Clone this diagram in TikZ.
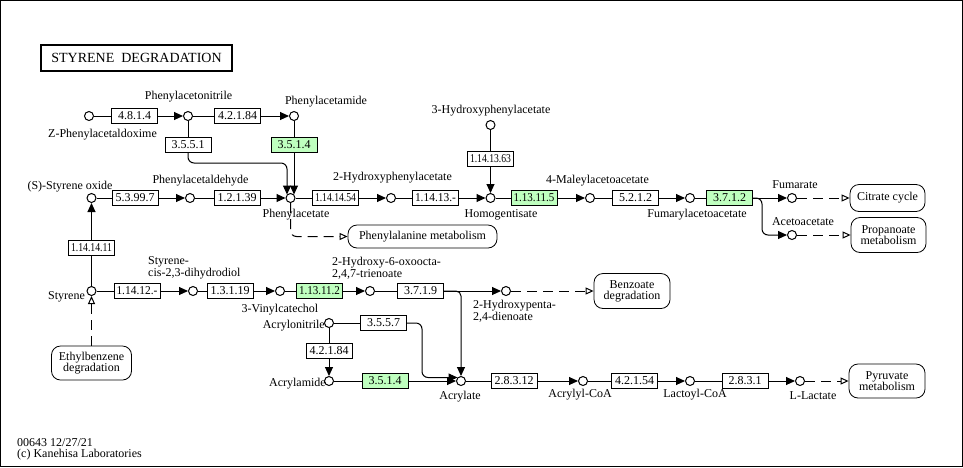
\documentclass[tikz,border=0pt]{standalone}
\usepackage{graphicx}
\usepackage{fontspec}
\setmainfont{Liberation Serif}
\usetikzlibrary{arrows.meta,backgrounds}
\definecolor{keggreen}{RGB}{191,255,191}
\newcommand{\fitec}[1]{\setbox0=\hbox{#1}\ifdim\wd0>41pt\resizebox{41pt}{\height}{#1}\else\box0\fi}
\begin{document}
\begin{tikzpicture}[x=1pt,y=-1pt,font=\fontsize{12}{12}\selectfont,
  cpd/.style={circle,draw,fill=white,minimum size=9,inner sep=0,line width=1},
  ec/.style={draw,fill=white,minimum width=46,minimum height=15,inner sep=0,line width=0.8},
  ecg/.style={ec,fill=keggreen},
  lbl/.style={inner sep=0},
  lbltwo/.style={inner sep=0,align=left,font=\fontsize{12}{10}\selectfont},
  mapbox/.style={draw,rounded corners=9,fill=white,align=center,inner sep=0,line width=0.8,font=\fontsize{12}{11}\selectfont},
  rx/.style={line width=1,-{Triangle[length=9pt,width=8pt]}},
  ln/.style={line width=1},
  rel/.style={line width=1,dash pattern=on 10pt off 6pt,-{Triangle[open,length=8pt,width=7pt]}}]
\useasboundingbox (0,0) rectangle (963,467);
\draw[line width=1.2] (0.75,0.75) rectangle (962.25,466.25);
% title
\node[draw,line width=2,minimum width=191,minimum height=26,inner sep=0,font=\fontsize{14}{14}\selectfont] (title) at (136.5,58) {STYRENE\ \ DEGRADATION};
% compounds
\node[cpd] (zpa) at (89,116) {};
\node[cpd] (pan) at (188,116) {};
\node[cpd] (pam) at (294,116) {};
\node[cpd] (so) at (91.5,198) {};
\node[cpd] (pald) at (190,198) {};
\node[cpd] (pac) at (290.5,198) {};
\node[cpd] (hpa2) at (391,198) {};
\node[cpd] (hpa3) at (490.5,125) {};
\node[cpd] (hgn) at (490.5,198) {};
\node[cpd] (mla) at (590,198) {};
\node[cpd] (fla) at (690,198) {};
\node[cpd] (fum) at (792,198) {};
\node[cpd] (aca) at (792,235) {};
\node[cpd] (sty) at (91.5,291) {};
\node[cpd] (sdd) at (193,291) {};
\node[cpd] (vc) at (280,291) {};
\node[cpd] (hoo) at (370,291) {};
\node[cpd] (hpd) at (506,291) {};
\node[cpd] (acn) at (329,323) {};
\node[cpd] (acm) at (329,381) {};
\node[cpd] (acr) at (461,381) {};
\node[cpd] (acoa) at (583,381) {};
\node[cpd] (lcoa) at (690,381) {};
\node[cpd] (lac) at (800,381) {};
% compound labels
\node[lbl] (lzpa) at (102.5,135) {Z-Phenylacetaldoxime};
\node[lbl] (lpan) at (188.5,97) {Phenylacetonitrile};
\node[lbl] (lpam) at (326,102) {Phenylacetamide};
\node[lbl] (lso) at (70,186.5) {(S)-Styrene oxide};
\node[lbl] (lpald) at (200.5,181) {Phenylacetaldehyde};
\node[lbl] (lpac) at (296,215) {Phenylacetate};
\node[lbl] (lhpa2) at (392.5,178) {2-Hydroxyphenylacetate};
\node[lbl] (lhpa3) at (491,111) {3-Hydroxyphenylacetate};
\node[lbl] (lhgn) at (501,215) {Homogentisate};
\node[lbl] (lmla) at (597.5,181) {4-Maleylacetoacetate};
\node[lbl] (lfla) at (697,215) {Fumarylacetoacetate};
\node[lbl] (lfum) at (795,185) {Fumarate};
\node[lbl] (laca) at (803,222) {Acetoacetate};
\node[lbl] (lsty) at (66.5,297) {Styrene};
\node[lbltwo,anchor=west] (lsdd) at (148,268) {Styrene-\\cis-2,3-dihydrodiol};
\node[lbl] (lvc) at (280,310) {3-Vinylcatechol};
\node[lbltwo,anchor=west] (lhoo) at (332,268) {2-Hydroxy-6-oxoocta-\\2,4,7-trienoate};
\node[lbltwo,anchor=west] (lhpd) at (473,311) {2-Hydroxypenta-\\2,4-dienoate};
\node[lbl,anchor=east] (lacn) at (325,326) {Acrylonitrile};
\node[lbl,anchor=east] (lacm) at (326,384) {Acrylamide};
\node[lbl] (lacr) at (460,397) {Acrylate};
\node[lbl] (lacoa) at (580,395) {Acrylyl-CoA};
\node[lbl] (llcoa) at (695,395) {Lactoyl-CoA};
\node[lbl] (llac) at (813,396) {L-Lactate};
% enzymes
\node[ec] (b4814) at (134.5,116) {\fitec{4.8.1.4}};
\node[ec] (b42184a) at (237.5,116) {\fitec{4.2.1.84}};
\node[ec] (b3551) at (188,144.5) {\fitec{3.5.5.1}};
\node[ecg] (b3514a) at (294,144.5) {\fitec{3.5.1.4}};
\node[ec] (b1141411) at (91.5,248) {\fitec{1.14.14.11}};
\node[ec] (b53997) at (135,198) {\fitec{5.3.99.7}};
\node[ec] (b12139) at (237,198) {\fitec{1.2.1.39}};
\node[ec] (b1141454) at (335.5,198) {\fitec{1.14.14.54}};
\node[ec] (b11413) at (435.5,198) {\fitec{1.14.13.-}};
\node[ec] (b1141363) at (490.5,159) {\fitec{1.14.13.63}};
\node[ecg] (b113115) at (534,198) {\fitec{1.13.11.5}};
\node[ec] (b5212) at (635.5,198) {\fitec{5.2.1.2}};
\node[ecg] (b3712) at (729.5,198) {\fitec{3.7.1.2}};
\node[ec] (b11412) at (137,291) {\fitec{1.14.12.-}};
\node[ec] (b13119) at (230,291) {\fitec{1.3.1.19}};
\node[ecg] (b113112) at (319.5,291) {\fitec{1.13.11.2}};
\node[ec] (b3719) at (420.5,291) {\fitec{3.7.1.9}};
\node[ec] (b3557) at (383.5,323) {\fitec{3.5.5.7}};
\node[ec] (b42184b) at (329,351) {\fitec{4.2.1.84}};
\node[ecg] (b3514b) at (385,381) {\fitec{3.5.1.4}};
\node[ec] (b28312) at (514,381) {\fitec{2.8.3.12}};
\node[ec] (b42154) at (634.5,381) {\fitec{4.2.1.54}};
\node[ec] (b2831) at (745,381) {\fitec{2.8.3.1}};
% maps
\node[mapbox,minimum width=149,minimum height=23] (phe) at (422.5,236.5) {Phenylalanine metabolism};
\node[mapbox,minimum width=75,minimum height=27] (cit) at (887.5,198) {Citrate cycle};
\node[mapbox,minimum width=75,minimum height=35] (pro) at (888.5,235) {Propanoate\\metabolism};
\node[mapbox,minimum width=76,minimum height=35] (ben) at (632,291) {Benzoate\\degradation};
\node[mapbox,minimum width=80,minimum height=34] (eth) at (91.5,363) {Ethylbenzene\\degradation};
\node[mapbox,minimum width=76,minimum height=34] (pyr) at (887,381) {Pyruvate\\metabolism};
% footer
\node[lbl,anchor=west] (ft1) at (17,443) {00643 12/27/21};
\node[lbl,anchor=west] (ft2) at (17,455) {(c) Kanehisa Laboratories};
% helper coordinates
\coordinate (pacinA) at (287,194.5);
\coordinate (pacinB) at (294,194.5);
\coordinate (c3551a) at (188,163);
\coordinate (c3551b) at (287,163);
\coordinate (c3712) at (762,198);
\coordinate (c3719) at (461,291);
\coordinate (c3557a) at (422,323);
\coordinate (c3557b) at (422,377.5);
\coordinate (acrinA) at (457.5,377.5);
\begin{pgfonlayer}{background}
\draw[rx] (zpa) -- (pan);
\draw[rx] (pan) -- (pam);
\draw[ln] (pan) -- (b3551);
\draw[rx,rounded corners=6] (b3551.south) -- (c3551a) -- (c3551b) -- (pacinA);
\draw[rx] (pam) -- (pacinB);
\draw[rx] (sty) -- (so);
\draw[rx] (so) -- (pald);
\draw[rx] (pald) -- (pac);
\draw[rx] (pac) -- (hpa2);
\draw[rx] (hpa2) -- (hgn);
\draw[rx] (hpa3) -- (hgn);
\draw[rx] (hgn) -- (mla);
\draw[rx] (mla) -- (fla);
\draw[rx] (fla) -- (fum);
\draw[rx,rounded corners=6] (b3712.east) -- (c3712) |- (aca);
\draw[rx] (sty) -- (sdd);
\draw[rx] (sdd) -- (vc);
\draw[rx] (vc) -- (hoo);
\draw[rx] (hoo) -- (hpd);
\draw[rx,rounded corners=5] (b3719.east) -- (c3719) -- (acr);
\draw[ln] (acn) -- (b3557.west);
\draw[rx,rounded corners=6] (b3557.east) -- (c3557a) -- (c3557b) -- (acrinA);
\draw[rx] (acn) -- (acm);
\draw[rx] (acm) -- (acr);
\draw[rx] (acr) -- (acoa);
\draw[rx] (acoa) -- (lcoa);
\draw[rx] (lcoa) -- (lac);
% map links
\draw[rel,rounded corners=6] (pac) |- (phe.west);
\draw[rel] (fum) -- (cit.west);
\draw[rel] (aca) -- (pro.west);
\draw[rel] (hpd) -- (ben.west);
\draw[rel] (lac) -- (pyr.west);
\draw[rel] (eth.north) -- (sty.south);
\end{pgfonlayer}
\end{tikzpicture}
\end{document}
